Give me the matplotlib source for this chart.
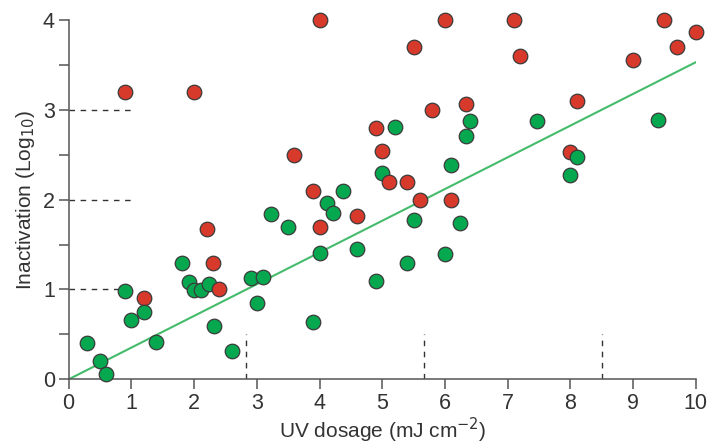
#!/usr/bin/env python3
"""UV dosage vs inactivation scatter with fitted line."""
import matplotlib

matplotlib.use("Agg", force=True)
import matplotlib.pyplot as plt
import numpy as np

plt.rcParams["font.family"] = ["Liberation Sans", "DejaVu Sans"]

# red points (dose, log10 inactivation)
red_x = [0.9, 2.0, 4.0, 6.0, 7.1, 9.5, 5.5, 9.7, 10.0, 7.2, 9.0, 5.8, 6.34, 8.1,
         4.9, 3.6, 5.0, 8.0, 5.1, 5.4, 3.9, 5.6, 6.1, 4.6, 2.2, 4.0, 2.3, 2.4, 1.2]
red_y = [3.2, 3.2, 4.0, 4.0, 4.0, 4.0, 3.7, 3.7, 3.87, 3.6, 3.55, 3.0, 3.06, 3.1,
         2.8, 2.5, 2.54, 2.53, 2.2, 2.2, 2.1, 2.0, 2.0, 1.82, 1.67, 1.69, 1.3, 1.0, 0.9]

# green points
green_x = [6.4, 6.34, 5.2, 7.47, 9.4, 8.1, 6.1, 5.0, 8.0, 4.38, 4.12, 4.21, 3.22,
           3.5, 5.5, 6.24, 4.0, 4.6, 5.4, 6.0, 4.9, 3.9, 3.1, 2.9, 3.0, 1.8, 1.92,
           2.0, 2.11, 2.23, 2.32, 2.6, 0.9, 1.2, 1.0, 1.4, 0.3, 0.5, 0.6]
green_y = [2.88, 2.71, 2.81, 2.87, 2.89, 2.47, 2.39, 2.3, 2.27, 2.1, 1.96, 1.85, 1.84,
           1.69, 1.77, 1.74, 1.41, 1.45, 1.29, 1.4, 1.09, 0.64, 1.14, 1.13, 0.85, 1.29, 1.08,
           0.99, 0.99, 1.06, 0.59, 0.31, 0.98, 0.75, 0.66, 0.41, 0.4, 0.2, 0.06]

fit_slope = 0.353
ref_levels = [1, 2, 3]
ref_doses = [2.83, 5.67, 8.5]

RED = "#d7392b"
GREEN = "#06a84f"
LINE_GREEN = "#45bb6c"
GREY = "#555555"
TEXT = "#333333"

fig = plt.figure(figsize=(7.11, 4.44), dpi=100)
ax = fig.add_axes([0.0966, 0.1457, 0.882, 0.8093])

# reference dashes
for lvl in ref_levels:
    ax.plot([0, 1.0], [lvl, lvl], color="#333333", lw=1.0, ls=(0, (4, 4)), zorder=1)
for d in ref_doses:
    ax.plot([d, d], [0, 0.5], color="#333333", lw=1.0, ls=(0, (4, 4)), zorder=1)

xs = np.array([0, 10])
ax.plot(xs, fit_slope * xs, color=LINE_GREEN, lw=1.5, zorder=2)

# draw in order of dose so overlaps stack the same way
pts = [(x, y, RED) for x, y in zip(red_x, red_y)] + \
      [(x, y, GREEN) for x, y in zip(green_x, green_y)]
pts.sort(key=lambda p: p[0])
for i, (x, y, c) in enumerate(pts):
    ax.scatter([x], [y], s=110, color=c, edgecolor="#3a3a3a", linewidth=0.9,
               zorder=3 + i * 0.01, clip_on=False)

ax.set_xlim(0, 10)
ax.set_ylim(0, 4)
ax.set_xticks(range(0, 11))
ax.set_yticks(range(0, 5))
ax.set_yticks(np.arange(0.5, 4, 1.0), minor=True)
for s in ["top", "right"]:
    ax.spines[s].set_visible(False)
for s in ["left", "bottom"]:
    ax.spines[s].set_color(GREY)
    ax.spines[s].set_linewidth(1.1)
ax.tick_params(axis="both", which="both", direction="out", length=7, width=1.1,
               color=GREY, labelcolor=TEXT, labelsize=15.5, pad=3)
ax.set_xlabel("UV dosage (mJ cm$^{\u22122}$)", fontsize=15, color=TEXT, labelpad=1)
ax.set_ylabel("Inactivation (Log$_{10}$)", fontsize=15, color=TEXT, labelpad=4)

fig.savefig("out.png", dpi=100)
